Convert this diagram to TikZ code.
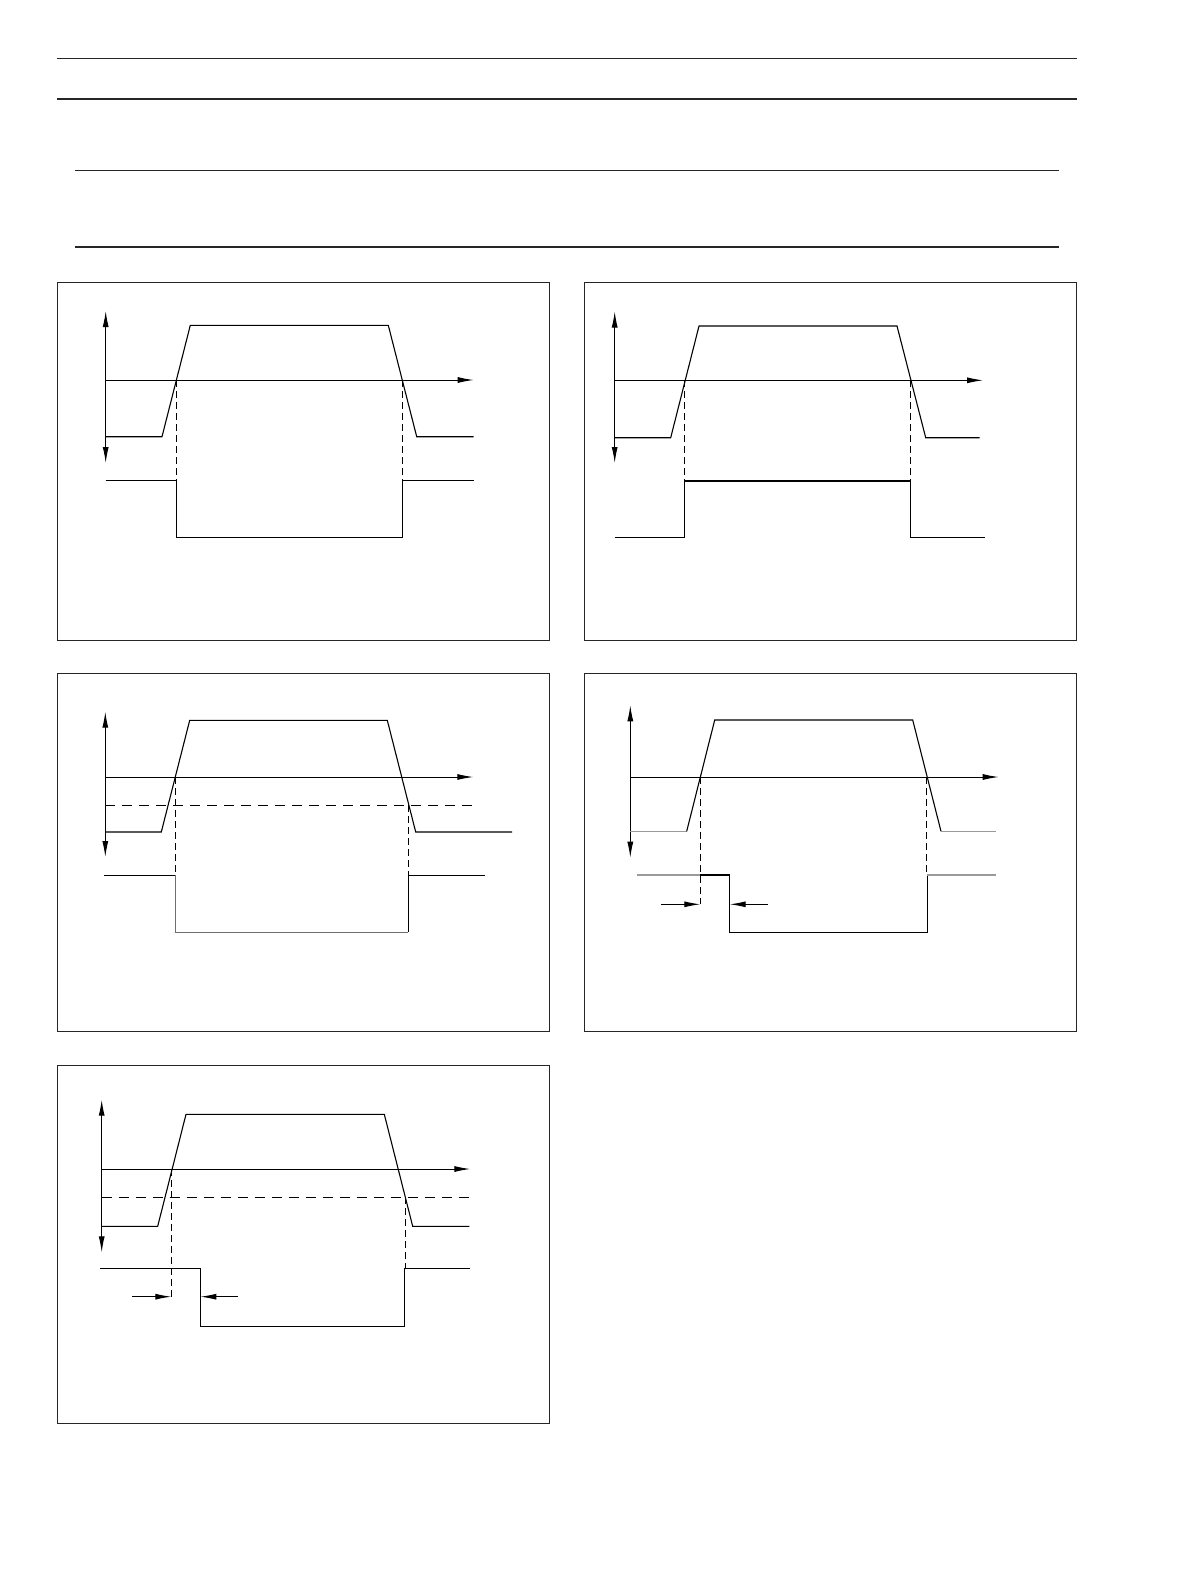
\documentclass[tikz,border=0pt]{standalone}
\usetikzlibrary{arrows.meta}
\definecolor{lgray}{HTML}{9A9A9A}
\definecolor{mgray}{HTML}{6E6E6E}
\tikzset{
  rule/.style={line width=0.65pt, draw=black!85},
  frame/.style={line width=0.5pt, draw=black!85},
  axis/.style={line width=0.5pt, -{Latex[length=8pt,width=3pt]}},
  axis2/.style={line width=0.5pt, {Latex[length=8pt,width=3pt]}-{Latex[length=8pt,width=3pt]}},
  wave/.style={line width=0.55pt},
  dashv/.style={line width=0.5pt, dash pattern=on 3.5pt off 2pt},
  dashh/.style={line width=0.5pt, dash pattern=on 5pt off 3.5pt},
  grayw/.style={line width=0.65pt, draw=lgray},
  marker/.style={line width=0.5pt, -{Latex[length=8pt,width=3pt]}}
}
\begin{document}
\begin{tikzpicture}[x=0.5pt,y=-0.5pt]
\useasboundingbox (0,0) rectangle (1190,1584);
\fill[white] (0,0) rectangle (1190,1584);

% header rules
\draw[rule] (57,58.5) -- (1077,58.5);
\draw[rule] (57,99) -- (1077,99);
\draw[rule] (75,170.3) -- (1059,170.3);
\draw[rule] (75,247) -- (1059,247);

% panel frames
\draw[frame] (57,282) rectangle (549,640);
\draw[frame] (584.5,282) rectangle (1076,640);
\draw[frame] (57,673) rectangle (549,1031);
\draw[frame] (584.5,673) rectangle (1076,1031);
\draw[frame] (57,1065) rectangle (549,1423);

% ---------- Panel 1 ----------
\draw[axis2] (105.7,311) -- (105.7,463);
\draw[axis] (105.7,380) -- (473.7,380);
\draw[wave] (105.7,436.7) -- (162,436.7) -- (190.3,325.3) -- (388.3,325.3) -- (416.7,436.7) -- (473.7,436.7);
\draw[dashv] (176.3,380) -- (176.3,480.3);
\draw[dashv] (402.3,380) -- (402.3,480.3);
\draw[wave] (105.7,480.3) -- (176.3,480.3) -- (176.3,537.7) -- (402.3,537.7) -- (402.3,480.3) -- (473.7,480.3);

% ---------- Panel 2 ----------
\draw[axis2] (614.7,311.5) -- (614.7,463);
\draw[axis] (614.7,380.3) -- (983,380.3);
\draw[wave] (614.7,437.7) -- (670.7,437.7) -- (699,326) -- (897,326) -- (925.7,437.7) -- (979.7,437.7);
\draw[dashv] (684.3,380.3) -- (684.3,481);
\draw[dashv] (910.3,380.3) -- (910.3,481);
\draw[wave] (614.7,537.7) -- (684.3,537.7) -- (684.3,481) -- (910.3,481) -- (910.3,537.7) -- (985.3,537.7);

% ---------- Panel 3 ----------
\draw[axis2] (105.3,711.7) -- (105.3,857);
\draw[axis] (105.3,777) -- (473.3,777);
\draw[dashh] (105.3,805.3) -- (474.3,805.3);
\draw[wave] (105.3,832) -- (161.3,832) -- (189.7,720.3) -- (387.3,720.3) -- (415.7,832) -- (512,832);
\draw[dashv] (175.3,777) -- (175.3,875.3);
\draw[dashv] (408.3,805.3) -- (408.3,875.3);
\draw[wave] (104,875.3) -- (175.3,875.3);
\draw[wave, draw=mgray] (175.3,875.3) -- (175.3,932.3) -- (408.3,932.3);
\draw[wave] (408.3,932.3) -- (408.3,875.3) -- (485.3,875.3);

% ---------- Panel 4 ----------
\draw[axis2] (630.3,705.3) -- (630.3,857.7);
\draw[axis] (630.3,777) -- (998.7,777);
\draw[grayw] (630.3,831.3) -- (686.7,831.3);
\draw[wave] (686.7,831.3) -- (714.7,720) -- (912.7,720) -- (941,831.3);
\draw[grayw] (941,831.3) -- (995.7,831.3);
\draw[dashv] (700.3,777) -- (700.3,904.3);
\draw[dashv] (926.7,777) -- (926.7,875);
\draw[grayw] (636.7,875) -- (700.3,875);
\draw[wave] (700.3,875) -- (729.7,875) -- (729.7,932.3) -- (927.3,932.3) -- (927.3,875);
\draw[grayw] (927.3,875) -- (996.3,875);
\draw[marker] (661.3,904.3) -- (700.3,904.3);
\draw[marker] (768,904.3) -- (729.7,904.3);

% ---------- Panel 5 ----------
\draw[axis2] (101.7,1099.7) -- (101.7,1252.3);
\draw[axis] (101.7,1169) -- (470.3,1169);
\draw[dashh] (101.7,1197.3) -- (470.3,1197.3);
\draw[wave] (101.7,1226.3) -- (157.7,1226.3) -- (186,1114.3) -- (384.3,1114.3) -- (412.7,1226.3) -- (469.3,1226.3);
\draw[dashv] (171.3,1169) -- (171.3,1296.7);
\draw[dashv] (405.3,1197.3) -- (405.3,1268.3);
\draw[wave] (100.3,1268.3) -- (200.3,1268.3) -- (200.3,1326.3) -- (404.3,1326.3) -- (404.3,1268.3) -- (469.7,1268.3);
\draw[marker] (132,1296.7) -- (171.3,1296.7);
\draw[marker] (237.7,1296.7) -- (200.3,1296.7);
\end{tikzpicture}
\end{document}
